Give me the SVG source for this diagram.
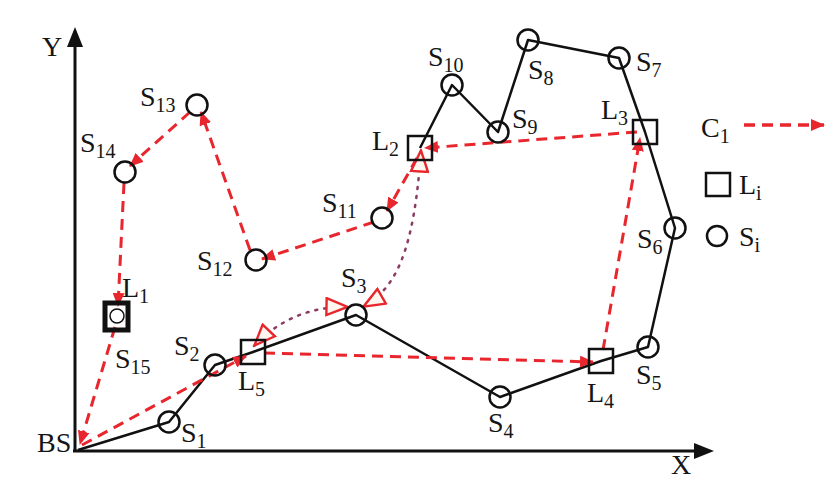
<svg xmlns="http://www.w3.org/2000/svg" width="826" height="482" viewBox="0 0 826 482">
<style>
.lbl{font-family:"Liberation Serif","Times New Roman",serif;font-size:28px;fill:#151515}
.sub{font-size:20px}
.node{fill:none;stroke:#111;stroke-width:2.5}
.path{fill:none;stroke:#111;stroke-width:2.5;stroke-linejoin:round}
.tour{fill:none;stroke:#e8262e;stroke-width:3;stroke-dasharray:11 7;marker-end:url(#ah)}
.dot{fill:none;stroke:#8b3a62;stroke-width:2.5;stroke-dasharray:2 7;stroke-linecap:round;marker-start:url(#tri);marker-end:url(#tri)}
.axis{stroke:#111;stroke-width:3;fill:none}
</style>
<defs>
<marker id="ah" markerUnits="userSpaceOnUse" viewBox="0 0 14 12" refX="13" refY="6" markerWidth="14" markerHeight="12" orient="auto">
<path d="M0,0 L14,6 L0,12 Z" fill="#e8262e"/>
</marker>
<marker id="tri" markerUnits="userSpaceOnUse" viewBox="0 0 24 20" refX="23" refY="10" markerWidth="24" markerHeight="20" orient="auto-start-reverse">
<path d="M1.5,1.5 L22.5,10 L1.5,18.5 Z" fill="#fff6f0" stroke="#e8262e" stroke-width="2.4" stroke-linejoin="miter"/>
</marker>
</defs>
<rect width="826" height="482" fill="#fff"/>

<g id="axes">
<line class="axis" x1="75" y1="451" x2="75" y2="42"/>
<polygon points="75,27 67,47 83,47" fill="#111"/>
<line class="axis" x1="73" y1="451" x2="700" y2="451"/>
<polygon points="714,451 694,443 694,459" fill="#111"/>
<text class="lbl" x="42" y="56">Y</text>
<text class="lbl" x="671" y="474">X</text>
</g>

<g id="connectors">
<polyline class="path" points="78,450 169,422 215,365 253,352 356,315 500,397 601,361 648,347 675,228 645,132 619,58 528,40 498,132 452,85 420,148"/>
<line class="tour" x1="82" y1="445" x2="246" y2="356"/>
<line class="tour" x1="264" y1="353" x2="593" y2="362"/>
<line class="tour" x1="603" y1="350" x2="640" y2="138"/>
<line class="tour" x1="637" y1="132" x2="425" y2="148"/>
<line class="tour" x1="417" y1="158" x2="387" y2="211"/>
<line class="tour" x1="374" y1="222" x2="262" y2="259"/>
<line class="tour" x1="250" y1="250" x2="201" y2="112"/>
<line class="tour" x1="190" y1="112" x2="130" y2="166"/>
<line class="tour" x1="124" y1="183" x2="118" y2="306"/>
<line class="tour" x1="115" y1="327" x2="80" y2="444"/>
<path class="dot" d="M254,346 Q292,306 348,307"/>
<path class="dot" d="M363,307 C396,288 414,252 421,150"/>
</g>

<g id="BS"><text class="lbl" x="37" y="452">BS</text></g>
<g id="S1"><circle class="node" cx="169" cy="422" r="10.5"/><text class="lbl" x="181" y="442">S<tspan class="sub" dy="6">1</tspan></text></g>
<g id="S2"><circle class="node" cx="215" cy="365" r="10.5"/><text class="lbl" x="174" y="355">S<tspan class="sub" dy="6">2</tspan></text></g>
<g id="L5"><rect class="node" x="241" y="340" width="24" height="24"/><text class="lbl" x="238" y="390">L<tspan class="sub" dy="6">5</tspan></text></g>
<g id="S3"><circle class="node" cx="356" cy="315" r="10.5"/><text class="lbl" x="341" y="287">S<tspan class="sub" dy="6">3</tspan></text></g>
<g id="S4"><circle class="node" cx="500" cy="397" r="10.5"/><text class="lbl" x="488" y="432">S<tspan class="sub" dy="6">4</tspan></text></g>
<g id="L4"><rect class="node" x="589" y="349" width="24" height="24"/><text class="lbl" x="587" y="402">L<tspan class="sub" dy="6">4</tspan></text></g>
<g id="S5"><circle class="node" cx="648" cy="347" r="10.5"/><text class="lbl" x="636" y="384">S<tspan class="sub" dy="6">5</tspan></text></g>
<g id="S6"><circle class="node" cx="675" cy="228" r="10.5"/><text class="lbl" x="637" y="248">S<tspan class="sub" dy="6">6</tspan></text></g>
<g id="L3"><rect class="node" x="633" y="120" width="24" height="24"/><text class="lbl" x="601" y="119">L<tspan class="sub" dy="6">3</tspan></text></g>
<g id="S7"><circle class="node" cx="619" cy="58" r="10.5"/><text class="lbl" x="636" y="71">S<tspan class="sub" dy="6">7</tspan></text></g>
<g id="S8"><circle class="node" cx="528" cy="40" r="10.5"/><text class="lbl" x="528" y="79">S<tspan class="sub" dy="6">8</tspan></text></g>
<g id="S9"><circle class="node" cx="498" cy="132" r="10.5"/><text class="lbl" x="512" y="128">S<tspan class="sub" dy="6">9</tspan></text></g>
<g id="S10"><circle class="node" cx="452" cy="85" r="10.5"/><text class="lbl" x="428" y="66">S<tspan class="sub" dy="6">10</tspan></text></g>
<g id="L2"><rect class="node" x="408" y="136" width="24" height="24"/><text class="lbl" x="372" y="150">L<tspan class="sub" dy="6">2</tspan></text></g>
<g id="S11"><circle class="node" cx="382" cy="218" r="10.5"/><text class="lbl" x="322" y="212">S<tspan class="sub" dy="6">11</tspan></text></g>
<g id="S12"><circle class="node" cx="256" cy="260" r="10.5"/><text class="lbl" x="197" y="270">S<tspan class="sub" dy="6">12</tspan></text></g>
<g id="S13"><circle class="node" cx="197" cy="105" r="10.5"/><text class="lbl" x="140" y="106">S<tspan class="sub" dy="6">13</tspan></text></g>
<g id="S14"><circle class="node" cx="125" cy="172" r="10.5"/><text class="lbl" x="80" y="152">S<tspan class="sub" dy="6">14</tspan></text></g>
<g id="L1"><rect x="105" y="303" width="23" height="27" fill="none" stroke="#111" stroke-width="5"/><text class="lbl" x="122" y="297">L<tspan class="sub" dy="6">1</tspan></text></g>
<g id="S15"><circle cx="117" cy="316" r="7" fill="none" stroke="#111" stroke-width="1.5"/><text class="lbl" x="115" y="368">S<tspan class="sub" dy="6">15</tspan></text></g>

<g id="legend">
<text class="lbl" x="701" y="137">C<tspan class="sub" dy="6">1</tspan></text>
<line x1="744" y1="125" x2="824" y2="125" stroke="#e8262e" stroke-width="3.5" stroke-dasharray="11 7" marker-end="url(#ah)"/>
<rect class="node" x="706" y="173" width="24" height="23" stroke-width="3"/>
<text class="lbl" x="739" y="194">L<tspan class="sub" dy="6">i</tspan></text>
<circle class="node" cx="717" cy="236" r="10" stroke-width="3"/>
<text class="lbl" x="739" y="246">S<tspan class="sub" dy="6">i</tspan></text>
</g>
</svg>
